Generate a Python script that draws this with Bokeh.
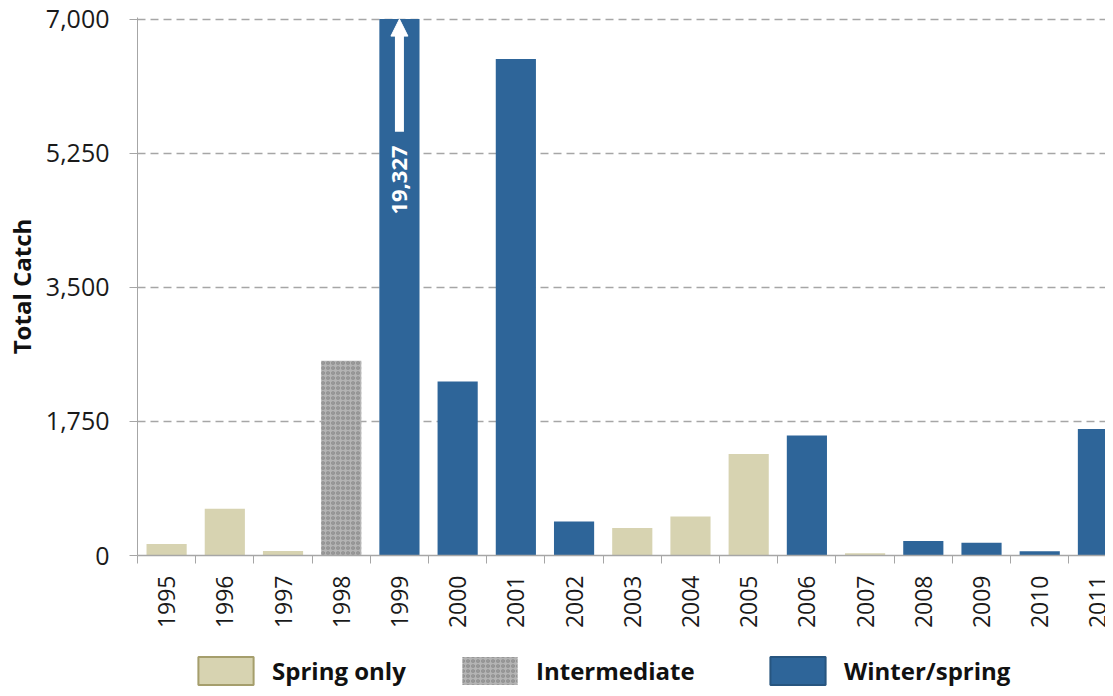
import math
from bokeh.plotting import figure
from bokeh.layouts import column
from bokeh.models import (Range1d, FixedTicker, NumeralTickFormatter, Arrow, NormalHead,
                          Legend, LegendItem, ColumnDataSource)
from bokeh.core.properties import value
from bokeh.embed import file_html
from bokeh.resources import INLINE

# ---- data ----
years = ["1995", "1996", "1997", "1998", "1999", "2000", "2001", "2002", "2003",
         "2004", "2005", "2006", "2007", "2008", "2009", "2010", "2011"]
total_catch = [150, 610, 60, 2540, 19327, 2270, 6480, 445, 360, 510, 1325, 1565,
               30, 190, 165, 55, 1650]
season = ["Spring only", "Spring only", "Spring only", "Intermediate", "Winter/spring",
          "Winter/spring", "Winter/spring", "Winter/spring", "Spring only", "Spring only",
          "Spring only", "Winter/spring", "Spring only", "Winter/spring", "Winter/spring",
          "Winter/spring", "Winter/spring"]
season_order = ["Spring only", "Intermediate", "Winter/spring"]
y_ticks = [0, 1750, 3500, 5250, 7000]
y_max = 7000

FONT = "Open Sans"
TAN = "#d7d3b1"
BLUE = "#2e6599"
GRAY_AX = "#a6a6a6"

styles = {
    "Spring only": dict(fill_color=TAN, line_color=None),
    "Intermediate": dict(fill_color="#b4b4b4", line_color=None, hatch_pattern="ring",
                         hatch_color="#5c5c5c", hatch_alpha=0.5, hatch_scale=5,
                         hatch_weight=1.2),
    "Winter/spring": dict(fill_color=BLUE, line_color=None),
}
legend_borders = {
    "Spring only": dict(line_color="#a59e6c", line_width=2),
    "Intermediate": dict(),
    "Winter/spring": dict(line_color="#27557f", line_width=2),
}

LEFT = 137
p = figure(width=1105, height=640, output_backend="svg", toolbar_location=None,
           x_range=Range1d(-0.5, 16.13), y_range=Range1d(0, y_max * 1.003),
           min_border_left=LEFT, min_border_right=0, min_border_top=17,
           min_border_bottom=85)
p.outline_line_color = None
p.background_fill_color = "white"

for s in season_order:
    xs = [i for i, ss in enumerate(season) if ss == s]
    tops = [min(total_catch[i], y_max) for i in xs]
    src = ColumnDataSource(dict(x=xs, top=tops))
    p.vbar(x="x", top="top", width=0.69, bottom=0, source=src, **styles[s])

# off-scale bar annotation
for i, v in enumerate(total_catch):
    if v > y_max:
        p.add_layout(Arrow(end=NormalHead(size=17, fill_color="white", line_color="white"),
                           x_start=i, y_start=y_max * 0.79, x_end=i, y_end=y_max,
                           line_color="white", line_width=9))
        p.text(x=[i], y=[y_max * 0.70], text=[f"{v:,}"], angle=math.pi / 2,
               text_align="center", text_baseline="middle", text_color="white",
               text_font=value(FONT), text_font_style="bold", text_font_size="22px")

# axes
p.yaxis.ticker = FixedTicker(ticks=y_ticks)
p.yaxis.formatter = NumeralTickFormatter(format="0,0")
p.yaxis.axis_label = "Total Catch"
p.yaxis.axis_label_text_font = FONT
p.yaxis.axis_label_text_font_style = "bold"
p.yaxis.axis_label_text_font_size = "24px"
p.yaxis.axis_label_text_color = "#111111"
p.yaxis.axis_label_standoff = 5
p.yaxis.major_label_text_font = FONT
p.yaxis.major_label_text_font_size = "25px"
p.yaxis.major_label_text_color = "#1a1a1a"
p.yaxis.major_label_standoff = 20
p.yaxis.major_tick_out = 8
p.yaxis.major_tick_in = 0
p.yaxis.minor_tick_line_color = None
p.yaxis.axis_line_color = GRAY_AX
p.yaxis.major_tick_line_color = GRAY_AX

p.xaxis.ticker = FixedTicker(ticks=list(range(len(years))),
                             minor_ticks=[i - 0.5 for i in range(len(years) + 1)])
p.xaxis.major_label_overrides = {i: y for i, y in enumerate(years)}
p.xaxis.major_label_orientation = math.pi / 2
p.xaxis.major_label_text_font = FONT
p.xaxis.major_label_text_font_size = "23px"
p.xaxis.major_label_text_color = "#1a1a1a"
p.xaxis.major_label_standoff = 12
p.xaxis.major_tick_out = 8
p.xaxis.major_tick_in = 0
p.xaxis.major_tick_line_color = None
p.xaxis.minor_tick_out = 8
p.xaxis.minor_tick_in = 0
p.xaxis.minor_tick_line_color = GRAY_AX
p.xaxis.axis_line_color = GRAY_AX
p.xaxis.axis_line_width = 1.5

p.xgrid.visible = False
p.ygrid.ticker = FixedTicker(ticks=[t for t in y_ticks if t > 0])
p.ygrid.grid_line_color = GRAY_AX
p.ygrid.grid_line_dash = "8 5"
p.ygrid.grid_line_width = 1.3

# legend strip below the chart (its frame lines up with the main chart's frame)
pl = figure(width=1105, height=48, output_backend="svg", toolbar_location=None,
            x_range=Range1d(0, 1), y_range=Range1d(0, 1),
            min_border_left=LEFT, min_border_right=0, min_border_top=0, min_border_bottom=0)
pl.axis.visible = False
pl.grid.visible = False
pl.outline_line_color = None
legend_x = [191, 455, 763]
nan = float("nan")
for s, lx in zip(season_order, legend_x):
    st = dict(styles[s])
    st.update(legend_borders[s])
    # proxy renderer with no drawable point; only its legend swatch is shown
    r = pl.vbar(x=[nan], top=[nan], width=0.5, **st)
    lg = Legend(items=[LegendItem(label=s, renderers=[r])],
                location=(lx - LEFT, 0), orientation="horizontal",
                glyph_width=69, glyph_height=35, label_standoff=12,
                label_text_font=FONT, label_text_font_style="bold",
                label_text_font_size="24px", label_text_color="#111111",
                border_line_color=None, background_fill_alpha=0,
                padding=0, margin=0, label_height=35)
    pl.add_layout(lg, "center")

layout = column(p, pl, spacing=0)
open("out.html", "w").write(file_html(layout, INLINE))
